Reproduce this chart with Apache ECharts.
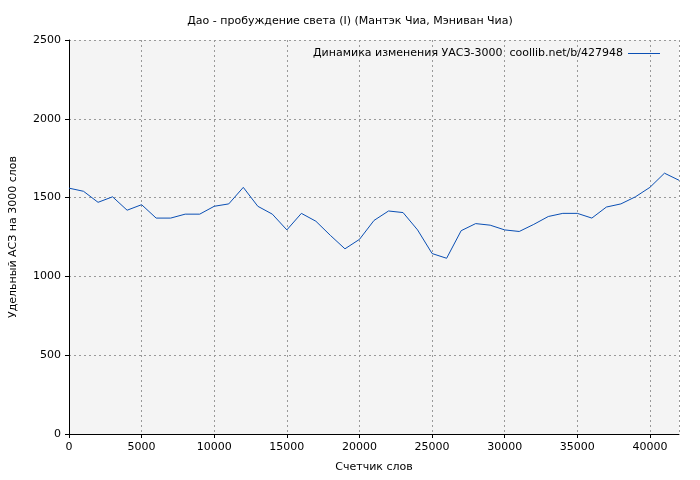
<!DOCTYPE html>
<html>
<head>
<meta charset="utf-8">
<script src="https://cdn.jsdelivr.net/npm/echarts@6/dist/echarts.min.js"></script>
<style>body{margin:0}#c{width:700px;height:480px}</style>
</head>
<body>
<div id="c"></div>
<script>
const words = [0,1000,2000,3000,4000,5000,6000,7000,8000,9000,10000,11000,12000,13000,14000,15000,16000,17000,18000,19000,20000,21000,22000,23000,24000,25000,26000,27000,28000,29000,30000,31000,32000,33000,34000,35000,36000,37000,38000,39000,40000,41000,42000]
const values = [1560,1540,1470,1505,1420,1455,1370,1370,1395,1395,1445,1460,1565,1445,1395,1295,1400,1350,1260,1175,1235,1355,1415,1405,1295,1145,1115,1290,1335,1325,1295,1285,1330,1380,1400,1400,1370,1440,1460,1505,1565,1655,1610]

const font = 'DejaVu Sans'
const seriesName = 'Динамика изменения УАСЗ-3000  coollib.net/b/427948'
const chart = echarts.init(document.getElementById('c'))
chart.setOption({
  backgroundColor: '#fff',
  textStyle: { fontFamily: font },
  title: {
    text: 'Дао - пробуждение света (I) (Мантэк Чиа, Мэниван Чиа)',
    left: 'center', top: 11,
    textStyle: { fontSize: 11, fontWeight: 'normal', color: '#000', fontFamily: font }
  },
  legend: {
    right: 35, top: 43, itemWidth: 32, itemHeight: 1, itemGap: 8,
    icon: 'rect', align: 'right',
    textStyle: { fontSize: 11, color: '#000', fontFamily: font },
    data: [{ name: seriesName }]
  },
  grid: { left: 63, right: 21, top: 40, bottom: 46, show: true, backgroundColor: '#f4f4f4', borderWidth: 0, containLabel: false },
  xAxis: {
    type: 'value', min: 0, max: 42000, interval: 5000,
    name: 'Счетчик слов', nameLocation: 'middle', nameGap: 28,
    nameTextStyle: { fontSize: 11, color: '#000' },
    axisLine: { lineStyle: { color: '#000', width: 1 } },
    axisTick: { lineStyle: { color: '#000' }, length: 4 },
    axisLabel: { fontSize: 11, color: '#000', showMaxLabel: false, formatter: v => String(v) },
    splitLine: { lineStyle: { color: '#999', type: [2, 3] } }
  },
  yAxis: {
    type: 'value', min: 0, max: 2500, interval: 500,
    name: 'Удельный АСЗ на 3000 слов', nameLocation: 'middle', nameGap: 50,
    nameTextStyle: { fontSize: 11, color: '#000' },
    axisLine: { show: true, lineStyle: { color: '#000', width: 1 } },
    axisTick: { show: true, lineStyle: { color: '#000' }, length: 4 },
    axisLabel: { fontSize: 11, color: '#000', formatter: v => String(v) },
    splitLine: { lineStyle: { color: '#999', type: [2, 3] } }
  },
  series: [{
    name: seriesName,
    type: 'line',
    data: words.map((w, i) => [w, values[i]]),
    showSymbol: false,
    lineStyle: { color: '#0a4fb4', width: 1 },
    itemStyle: { color: '#0a4fb4' },
    animation: false
  }]
})
</script>
</body>
</html>
